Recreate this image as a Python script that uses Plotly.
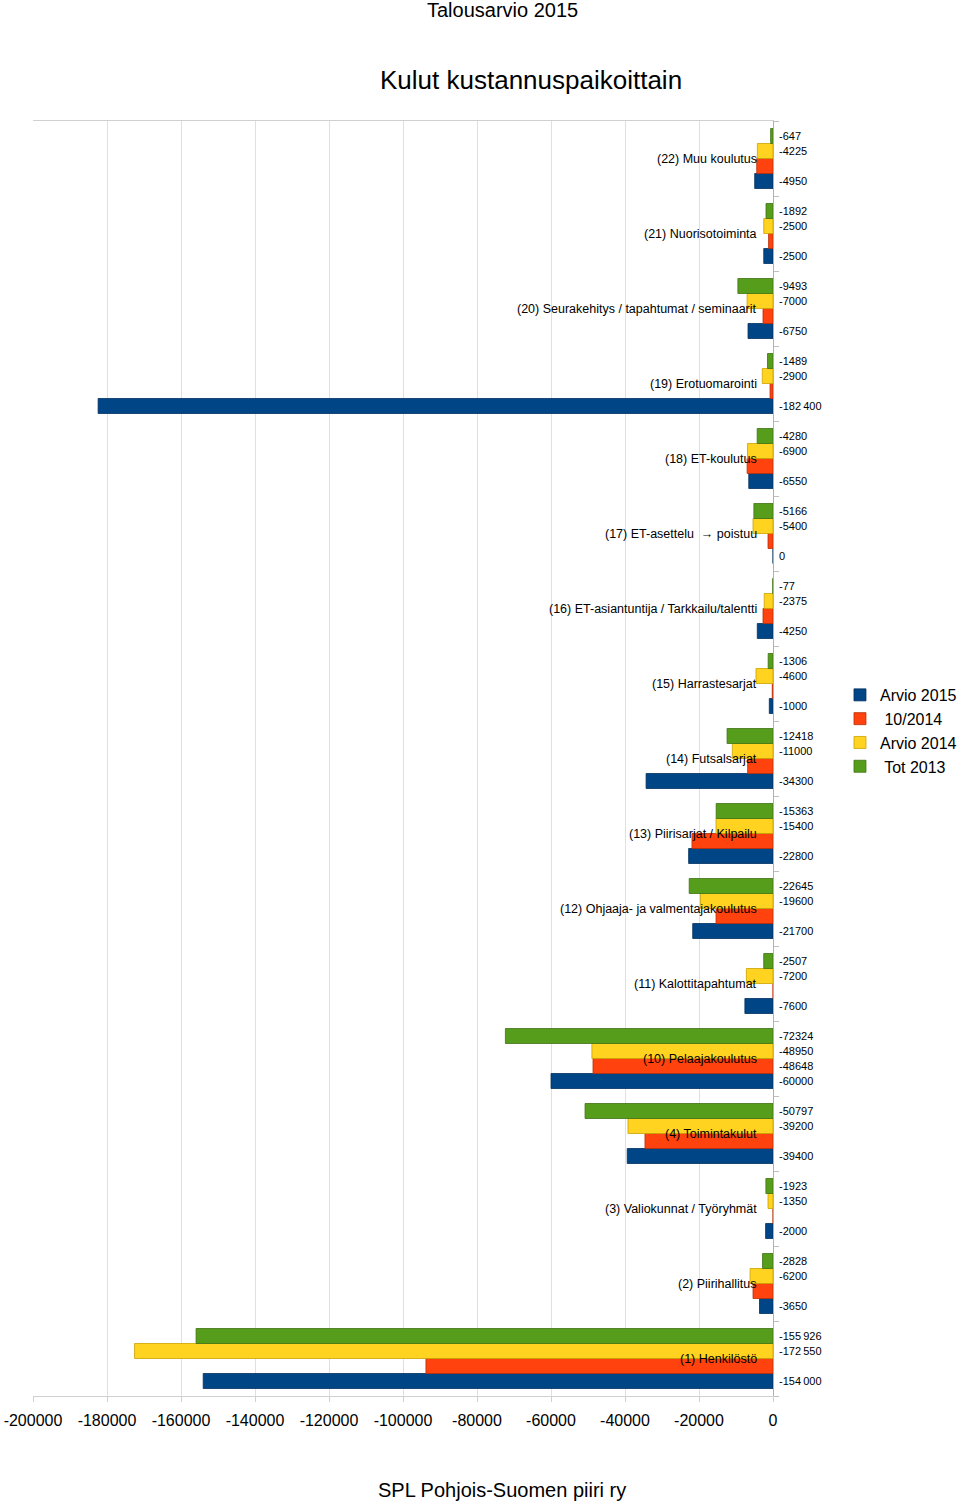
import plotly.graph_objects as go

categories = [
    "(1) Henkilöstö",
    "(2) Piirihallitus",
    "(3) Valiokunnat / Työryhmät",
    "(4) Toimintakulut",
    "(10) Pelaajakoulutus",
    "(11) Kalottitapahtumat",
    "(12) Ohjaaja- ja valmentajakoulutus",
    "(13) Piirisarjat / Kilpailu",
    "(14) Futsalsarjat",
    "(15) Harrastesarjat",
    "(16) ET-asiantuntija / Tarkkailu/talentti",
    "(17) ET-asettelu  → poistuu",
    "(18) ET-koulutus",
    "(19) Erotuomarointi",
    "(20) Seurakehitys / tapahtumat / seminaarit",
    "(21) Nuorisotoiminta",
    "(22) Muu koulutus",
]

arvio_2015 = [-154000, -3650, -2000, -39400, -60000, -7600, -21700, -22800, -34300,
              -1000, -4250, 0, -6550, -182400, -6750, -2500, -4950]
oct_2014 = [-93800, -5400, 0, -34600, -48648, 0, -15400, -21900, -6850,
            -200, -2700, -1350, -7000, -800, -2700, -1200, -4400]
arvio_2014 = [-172550, -6200, -1350, -39200, -48950, -7200, -19600, -15400, -11000,
              -4600, -2375, -5400, -6900, -2900, -7000, -2500, -4225]
tot_2013 = [-155926, -2828, -1923, -50797, -72324, -2507, -22645, -15363, -12418,
            -1306, -77, -5166, -4280, -1489, -9493, -1892, -647]

# only this category carries labels for the 10/2014 series in the original
oct_2014_labelled = ["(10) Pelaajakoulutus"]

tick_vals = [-200000, -180000, -160000, -140000, -120000, -100000, -80000, -60000, -40000, -20000, 0]
tick_text = ["-200000", "-180000", "-160000", "-140000", "-120000", "-100000",
             "-80000", "-60000", "-40000", "-20000", "0"]

series = [
    ("Arvio 2015", arvio_2015, "#004586", "#00305e"),
    (" 10/2014", oct_2014, "#ff420e", "#b82e08"),
    ("Arvio 2014", arvio_2014, "#ffd320", "#c9a200"),
    (" Tot 2013", tot_2013, "#579d1c", "#3e7213"),
]


def fmt(v):
    s = str(abs(int(v)))
    if len(s) >= 6:
        s = s[:-3] + "\u2009" + s[-3:]
    return ("-" if v < 0 else "") + s


FONT = "Liberation Sans, Arial, sans-serif"

fig = go.Figure()
for name, vals, col, lcol in series:
    fig.add_trace(go.Bar(
        y=categories, x=vals, name=name, orientation="h",
        marker=dict(color=col, line=dict(color=lcol, width=0.8)),
    ))

annotations = []
offsets = {"Arvio 2015": -22.5, " 10/2014": -7.5, "Arvio 2014": 7.5, " Tot 2013": 22.5}
for name, vals, col, lcol in series:
    for c, v in zip(categories, vals):
        if name == " 10/2014" and c not in oct_2014_labelled:
            continue
        annotations.append(dict(
            x=0, y=c, xref="x", yref="y", text=fmt(v), showarrow=False,
            xanchor="left", yanchor="middle", xshift=4, yshift=offsets[name],
            font=dict(family=FONT, size=11, color="#000000"),
        ))
for c in categories:
    annotations.append(dict(
        x=0, y=c, xref="x", yref="y", text=c, showarrow=False,
        xanchor="right", yanchor="middle", xshift=-14, yshift=0,
        font=dict(family=FONT, size=12.5, color="#000000"),
    ))
annotations += [
    dict(text="Talousarvio 2015", x=0.634, y=1.0871, xref="paper", yref="paper",
         showarrow=False, xanchor="center", yanchor="middle",
         font=dict(family=FONT, size=20, color="#000000")),
    dict(text="Kulut kustannuspaikoittain", x=0.673, y=1.032, xref="paper", yref="paper",
         showarrow=False, xanchor="center", yanchor="middle",
         font=dict(family=FONT, size=26, color="#000000")),
    dict(text="SPL Pohjois-Suomen piiri ry", x=0.634, y=-0.0737, xref="paper", yref="paper",
         showarrow=False, xanchor="center", yanchor="middle",
         font=dict(family=FONT, size=20, color="#000000")),
]

fig.update_layout(
    width=960, height=1502,
    margin=dict(l=33, r=187, t=121, b=106, autoexpand=False),
    paper_bgcolor="white", plot_bgcolor="white",
    barmode="group", bargap=0.2, bargroupgap=0,
    font=dict(family=FONT, color="#000000"),
    showlegend=True,
    legend=dict(x=1.0905, y=0.5216, xanchor="left", yanchor="middle",
                font=dict(family=FONT, size=16, color="#000000"),
                traceorder="normal", itemwidth=30, tracegroupgap=0,
                bgcolor="rgba(0,0,0,0)"),
    annotations=annotations,
    xaxis=dict(range=[-200000, 0], tickvals=tick_vals, ticktext=tick_text,
               showgrid=True, gridcolor="#e0e0e0", gridwidth=1,
               zeroline=False, showline=True, linecolor="#d0d0d0", mirror=True,
               ticks="outside", ticklen=5, tickcolor="#d0d0d0",
               ticklabelstandoff=5,
               tickfont=dict(family=FONT, size=16, color="#000000"),
               automargin=False, fixedrange=True),
    yaxis=dict(side="right", showticklabels=False, ticks="outside", ticklen=5,
               tickcolor="#c0c0c0", tickson="boundaries",
               showline=True, linecolor="#b0b0b0", showgrid=False, zeroline=False,
               automargin=False,
               categoryorder="array", categoryarray=categories),
)

fig.write_html(
    "out.html",
    config={"displayModeBar": False},
    post_script="document.body.style.margin='0';document.body.style.padding='0';",
)
